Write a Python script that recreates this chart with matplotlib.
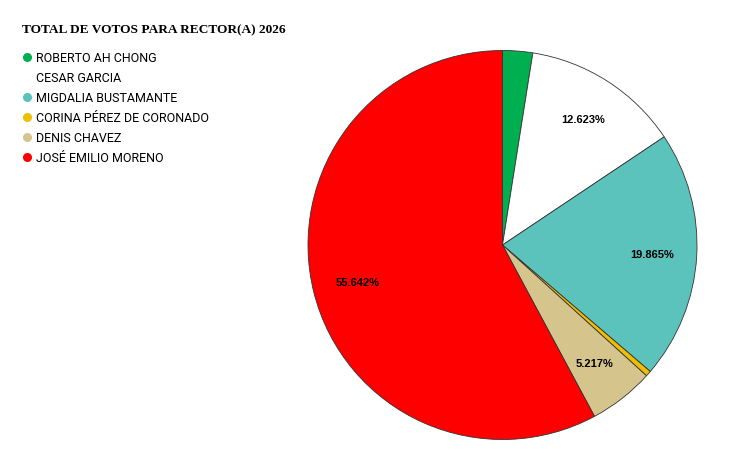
import matplotlib.pyplot as plt
from matplotlib.lines import Line2D

# candidates, clockwise from 12 o'clock
names = ['ROBERTO AH CHONG', 'CESAR GARCIA', 'MIGDALIA BUSTAMANTE',
         'CORINA PÉREZ DE CORONADO', 'DENIS CHAVEZ', 'JOSÉ EMILIO MORENO']
votes = [2.4, 12.623, 19.865, 0.45, 5.217, 55.642]
slice_text = ['', '12.623%', '19.865%', '', '5.217%', '55.642%']
colors = ['#00b050', '#ffffff', '#5cc3bc', '#f0be00', '#d5c48c', '#ff0000']

W, H = 750, 464
fig = plt.figure(figsize=(W/100, H/100), dpi=100)

cx, cy, r = 502.5, 246, 194.5
ax = fig.add_axes([(cx - r)/W, (H - cy - r)/H, 2*r/W, 2*r/H])
wedges, texts = ax.pie(votes, labels=slice_text, colors=colors, startangle=90,
                       counterclock=False, labeldistance=0.77,
                       wedgeprops=dict(edgecolor='#333333', linewidth=0.6,
                                       clip_on=False),
                       textprops=dict(fontsize=8, fontweight='bold',
                                      family='Liberation Sans', color='black'))
for t in texts:
    t.set_horizontalalignment('center')
    t.set_verticalalignment('center')
ax.set_xlim(-1, 1)
ax.set_ylim(-1, 1)
ax.axis('off')

fig.text(22/W, 1 - 30/H, 'TOTAL DE VOTOS PARA RECTOR(A) 2026', fontsize=9.6,
         fontweight='bold', family='Liberation Serif', va='center', ha='left')

handles = [Line2D([], [], marker='o', linestyle='none', markersize=5.5,
                  markerfacecolor=c, markeredgecolor=c) for c in colors]
fig.legend(handles, names, loc='upper left', bbox_to_anchor=(22/W, 1 - 52.5/H),
           frameon=False, handlelength=0.8, handletextpad=0.35, labelspacing=0.56,
           borderaxespad=0, borderpad=0,
           prop=dict(family='Roboto', size=9))

plt.savefig('out.png', dpi=100)
